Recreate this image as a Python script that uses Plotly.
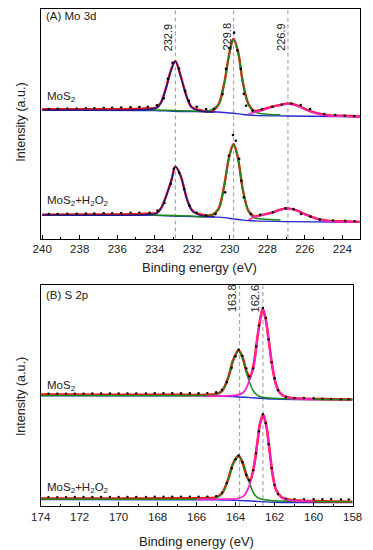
import plotly.graph_objects as go

# ---------------- Panel A: Mo 3d ----------------
A_ticks = [240, 238, 236, 234, 232, 230, 228, 226, 224]
A_peaks = [232.9, 229.8, 226.9]
A_peak_labels = ["232.9", "229.8", "226.9"]

A_mos2_env_be = [240.0, 237.0, 235.0, 234.5, 233.91, 233.69, 233.42, 233.12, 232.9, 232.62, 232.31, 232.1, 231.93, 231.44, 230.94,
                 230.59, 230.29, 230.0, 229.8, 229.55, 229.3, 229.0, 228.69, 228.29, 227.79, 227.27, 226.9, 226.36, 225.86,
                 225.36, 224.75, 223.96, 223.05]
A_mos2_env_y = [129.5, 129.5, 129.8, 130.3, 131.3, 135.7, 149.7, 169.7, 178.0, 163.0, 143.0, 133.5, 130.5, 128.0, 128.0,
                134.7, 156.3, 188.0, 200.3, 186.3, 156.3, 134.7, 128.0, 129.0, 132.0, 134.0, 135.3, 133.0, 128.7,
                125.7, 123.7, 123.0, 122.3]
A_mos2_bg_be = [240.0, 234.0, 233.2, 232.5, 231.0, 230.3, 229.8, 229.3, 228.8, 227.0, 223.05]
A_mos2_bg_y = [128.5, 128.3, 127.8, 127.3, 127.0, 126.3, 125.5, 124.3, 123.5, 122.8, 122.0]
A_mos2_c1_be = [240.0, 234.5, 233.91, 233.69, 233.42, 233.12, 232.9, 232.62, 232.31, 232.1, 231.93, 231.44, 230.8]
A_mos2_c1_y = [128.8, 129.2, 130.8, 135.2, 149.2, 169.2, 177.5, 162.5, 142.5, 133.0, 130.0, 127.3, 126.8]
A_mos2_c2_be = [234.5, 233.0, 232.0, 231.2, 230.59, 230.29, 230.0, 229.8, 229.55, 229.3, 229.0, 228.69, 228.3, 227.8, 227.3]
A_mos2_c2_y = [129.0, 128.3, 127.8, 127.6, 134.3, 155.8, 187.5, 199.8, 185.8, 155.8, 134.0, 127.2, 125.0, 124.3, 124.0]
A_mos2_c3_be = [229.0, 228.69, 228.29, 227.79, 227.27, 226.9, 226.36, 225.86, 225.36, 224.75, 223.96, 223.05]
A_mos2_c3_y = [124.5, 126.5, 128.4, 131.5, 133.5, 134.8, 132.5, 128.2, 125.2, 123.2, 122.6, 122.0]
A_mos2_dot_be = [239.65, 239.18, 238.66, 238.16, 237.67, 237.22, 236.72, 236.27, 235.79, 235.29, 234.82, 234.37, 233.88,
                 233.52, 233.3, 233.05, 232.71, 232.38, 232.18, 231.76, 231.26, 230.84, 230.39, 230.2, 230.02, 229.77,
                 229.58, 229.41, 229.25, 229.13, 228.79, 228.29, 227.73, 227.23, 226.72, 226.22, 225.72, 224.97, 224.38,
                 223.87, 223.37]
A_mos2_dot_y = [129.8, 130.0, 130.2, 130.3, 130.5, 130.5, 130.8, 131.0, 131.3, 131.5, 131.7, 132.0, 133.5,
                140.5, 160.0, 176.0, 170.3, 148.0, 138.0, 132.0, 129.7, 130.0, 144.7, 170.0, 191.0, 206.3,
                188.3, 170.0, 145.0, 133.0, 128.0, 129.5, 132.0, 134.3, 135.3, 133.7, 129.7, 124.7, 123.7,
                123.0, 122.7]

A_h2o2_env_be = [240.0, 237.0, 235.0, 234.5, 233.89, 233.65, 233.42, 233.12, 232.9, 232.62, 232.31, 232.1, 231.93, 231.44,
                 230.94, 230.6, 230.3, 230.02, 229.8, 229.57, 229.31, 229.01, 228.71, 228.31, 227.81, 227.3, 226.9,
                 226.4, 225.9, 225.4, 224.8, 224.0, 223.05]
A_h2o2_env_y = [24.0, 24.2, 24.5, 24.8, 25.7, 31.0, 41.3, 58.0, 72.3, 63.0, 41.3, 31.0, 27.0, 23.7,
                23.7, 29.7, 53.0, 83.0, 94.7, 81.3, 49.7, 28.0, 22.3, 23.7, 25.7, 29.0, 30.3,
                28.0, 23.7, 20.3, 18.0, 17.3, 16.7]
A_h2o2_bg_be = [240.0, 234.0, 233.0, 232.0, 231.0, 230.3, 229.8, 229.3, 228.8, 227.0, 223.05]
A_h2o2_bg_y = [23.4, 23.2, 22.5, 22.0, 21.7, 21.0, 19.7, 18.5, 17.8, 17.0, 16.3]
A_h2o2_c1_be = [240.0, 234.5, 233.89, 233.65, 233.42, 233.12, 232.9, 232.62, 232.31, 232.1, 231.93, 231.44, 230.8]
A_h2o2_c1_y = [23.6, 23.9, 25.2, 30.5, 40.9, 57.6, 71.9, 62.6, 40.9, 30.6, 26.4, 22.6, 22.0]
A_h2o2_c2_be = [234.5, 233.0, 232.0, 231.2, 230.6, 230.3, 230.02, 229.8, 229.57, 229.31, 229.01, 228.71, 228.3, 227.8, 227.3]
A_h2o2_c2_y = [23.8, 23.0, 22.5, 22.2, 29.3, 52.6, 82.6, 94.3, 80.9, 49.3, 27.4, 21.0, 19.6, 19.0, 18.7]
A_h2o2_c3_be = [229.0, 228.71, 228.31, 227.81, 227.3, 226.9, 226.4, 225.9, 225.4, 224.8, 224.0, 223.05]
A_h2o2_c3_y = [19.0, 21.4, 23.3, 25.3, 28.6, 29.9, 27.6, 23.3, 19.9, 17.6, 17.0, 16.4]
A_h2o2_dot_be = [239.65, 239.18, 238.66, 238.16, 237.67, 237.22, 236.72, 236.27, 235.79, 235.29, 234.82, 234.27, 233.85,
                 233.48, 233.15, 232.98, 232.7, 232.43, 232.15, 231.76, 231.26, 230.76, 230.25, 230.05, 229.83, 229.68,
                 229.5, 229.38, 229.25, 228.88, 228.38, 227.7, 227.03, 226.6, 226.2, 225.7, 225.2, 224.5, 223.85, 223.35]
A_h2o2_dot_y = [24.5, 24.6, 24.7, 24.8, 25.0, 25.0, 25.3, 25.4, 25.6, 25.7, 25.8, 25.7, 28.0,
                35.7, 54.7, 70.0, 66.0, 49.7, 33.0, 25.7, 23.0, 24.5, 46.3, 83.0, 103.7, 98.0,
                80.0, 58.0, 41.3, 24.7, 23.7, 26.3, 30.3, 29.5, 24.7, 22.0, 19.0, 18.0, 17.7, 17.3]

# ---------------- Panel B: S 2p ----------------
B_ticks = [174, 172, 170, 168, 166, 164, 162, 160, 158]
B_peaks = [163.8, 162.6]
B_peak_labels = ["163.8", "162.6"]

B_mos2_env_be = [174.0, 170.0, 167.0, 166.32, 165.5, 165.03, 164.7, 164.37, 164.13, 163.85, 163.64, 163.43, 163.27, 163.08,
                 162.88, 162.75, 162.61, 162.46, 162.3, 162.14, 161.94, 161.7, 161.3, 160.65, 160.0, 159.0, 158.0]
B_mos2_env_y = [111.7, 111.6, 111.5, 111.3, 111.5, 112.0, 115.3, 129.3, 146.0, 156.0, 148.7, 134.3, 129.3, 141.0,
                169.3, 186.0, 197.7, 187.7, 166.0, 142.7, 122.7, 112.7, 108.7, 107.7, 107.3, 107.0, 106.8]
B_mos2_bg_be = [174.0, 166.0, 165.0, 164.0, 163.5, 163.0, 162.5, 162.0, 161.0, 158.0]
B_mos2_bg_y = [110.5, 110.4, 110.2, 109.6, 109.0, 108.3, 107.7, 107.2, 106.8, 106.5]
B_mos2_c1_be = [174.0, 166.0, 165.03, 164.7, 164.37, 164.13, 163.85, 163.64, 163.43, 163.27, 163.08, 162.88, 162.6, 162.0, 160.0, 158.0]
B_mos2_c1_y = [110.9, 110.9, 111.5, 115.0, 129.0, 145.7, 155.7, 147.5, 133.0, 123.0, 115.0, 111.0, 109.0, 108.0, 107.0, 106.7]
B_mos2_c2_be = [165.5, 164.5, 164.0, 163.6, 163.35, 163.08, 162.88, 162.75, 162.61, 162.46, 162.3, 162.14, 161.94, 161.7, 161.3, 160.65, 160.0]
B_mos2_c2_y = [110.2, 110.3, 110.8, 114.0, 123.0, 139.5, 169.0, 185.7, 197.4, 187.4, 165.7, 142.4, 122.4, 112.4, 108.4, 107.4, 107.0]
B_dot_be = [173.6, 173.15, 172.7, 172.25, 171.8, 171.35, 170.9, 170.45, 170.0, 169.55, 169.1, 168.6, 168.15, 167.7, 167.25,
            166.8, 166.35, 165.9, 165.45, 165.0, 164.7, 164.45, 164.2, 164.0, 163.85, 163.65, 163.45, 163.3, 163.1, 162.95,
            162.8, 162.6, 162.45, 162.3, 162.15, 162.0, 161.83, 161.42, 160.98, 160.5, 160.0, 159.55, 159.1, 158.6, 158.2]
B_mos2_dot_y = [112.6, 112.7, 112.7, 112.7, 112.7, 112.8, 112.8, 112.8, 112.8, 112.9, 112.9, 112.9, 113.0, 113.0, 113.0,
                113.0, 113.0, 113.0, 113.2, 114.0, 116.5, 124.0, 138.5, 150.0, 156.7, 150.5, 138.0, 130.0, 138.0, 160.0,
                181.0, 198.5, 188.5, 167.0, 144.0, 128.0, 116.0, 109.3, 108.3, 108.3, 108.0, 107.7, 107.3, 107.0, 107.0]

B_h2o2_env_be = [174.0, 170.0, 167.0, 166.32, 165.5, 165.03, 164.7, 164.37, 164.13, 163.85, 163.64, 163.43, 163.27, 163.08,
                 162.88, 162.75, 162.59, 162.43, 162.27, 162.11, 161.92, 161.63, 161.15, 159.85, 158.0]
B_h2o2_env_y = [7.5, 7.6, 7.7, 7.7, 8.0, 8.7, 12.7, 27.7, 42.7, 50.3, 43.3, 30.0, 25.0, 37.7,
                64.3, 82.7, 91.7, 81.0, 57.7, 32.7, 16.0, 8.7, 6.0, 5.0, 4.3]
B_h2o2_bg_be = [174.0, 166.0, 165.0, 164.0, 163.0, 162.0, 161.0, 158.0]
B_h2o2_bg_y = [6.6, 6.4, 6.2, 5.7, 4.8, 3.9, 3.6, 3.5]
B_h2o2_c1_be = [174.0, 166.0, 165.03, 164.7, 164.37, 164.13, 163.85, 163.64, 163.43, 163.27, 163.08, 162.88, 162.6, 162.0, 160.0, 158.0]
B_h2o2_c1_y = [7.0, 7.1, 8.0, 12.3, 27.3, 42.3, 50.0, 43.0, 31.0, 22.0, 13.0, 8.5, 6.5, 5.3, 4.5, 4.2]
B_h2o2_c2_be = [166.0, 164.5, 164.0, 163.6, 163.35, 163.08, 162.88, 162.75, 162.59, 162.43, 162.27, 162.11, 161.92, 161.63, 161.15, 160.0]
B_h2o2_c2_y = [6.8, 7.0, 7.3, 10.0, 18.0, 37.3, 64.0, 82.4, 91.4, 80.7, 57.4, 32.4, 15.7, 8.4, 5.7, 4.7]
B_h2o2_dot_y = [9.0, 9.0, 9.0, 9.1, 9.1, 9.1, 9.1, 9.2, 9.2, 9.2, 9.2, 9.2, 9.3, 9.3, 9.3,
                9.3, 9.3, 9.4, 9.5, 10.0, 13.5, 23.0, 38.0, 47.0, 50.7, 44.0, 31.5, 26.0, 36.0, 53.0,
                75.0, 92.0, 83.0, 62.0, 38.0, 21.0, 12.0, 7.5, 7.0, 7.0, 7.0, 7.0, 7.0, 6.7, 6.7]

# ---------------- styling ----------------
FONT = "Arial, Liberation Sans, sans-serif"
RED = "#ff1010"
NAVY = "#1a1a8c"
BLUE = "#2a2ad0"
GREEN = "#1a8a1a"
MAGENTA = "#ff20c8"

fig = go.Figure()


def line(x, y, color, width, xa, ya):
    fig.add_trace(go.Scatter(x=x, y=y, mode="lines", xaxis=xa, yaxis=ya, showlegend=False, hoverinfo="skip",
                             line=dict(color=color, width=width, shape="spline", smoothing=0.9)))


def dots(x, y, xa, ya, size=2.6):
    fig.add_trace(go.Scatter(x=x, y=y, mode="markers", xaxis=xa, yaxis=ya, showlegend=False, hoverinfo="skip",
                             marker=dict(color="black", size=size)))


# panel A traces
for env_be, env_y, bg_be, bg_y, c1b, c1y, c2b, c2y, c3b, c3y, db, dy in [
    (A_mos2_env_be, A_mos2_env_y, A_mos2_bg_be, A_mos2_bg_y, A_mos2_c1_be, A_mos2_c1_y, A_mos2_c2_be, A_mos2_c2_y,
     A_mos2_c3_be, A_mos2_c3_y, A_mos2_dot_be, A_mos2_dot_y),
    (A_h2o2_env_be, A_h2o2_env_y, A_h2o2_bg_be, A_h2o2_bg_y, A_h2o2_c1_be, A_h2o2_c1_y, A_h2o2_c2_be, A_h2o2_c2_y,
     A_h2o2_c3_be, A_h2o2_c3_y, A_h2o2_dot_be, A_h2o2_dot_y)]:
    line(bg_be, bg_y, BLUE, 1.4, "x", "y")
    line(env_be, env_y, RED, 2.4, "x", "y")
    line(c2b, c2y, GREEN, 1.5, "x", "y")
    line(c3b, c3y, MAGENTA, 1.6, "x", "y")
    line(c1b, c1y, NAVY, 1.5, "x", "y")
    dots(db, dy, "x", "y")

# panel B traces
for env_be, env_y, bg_be, bg_y, c1b, c1y, c2b, c2y, dy in [
    (B_mos2_env_be, B_mos2_env_y, B_mos2_bg_be, B_mos2_bg_y, B_mos2_c1_be, B_mos2_c1_y, B_mos2_c2_be, B_mos2_c2_y, B_mos2_dot_y),
    (B_h2o2_env_be, B_h2o2_env_y, B_h2o2_bg_be, B_h2o2_bg_y, B_h2o2_c1_be, B_h2o2_c1_y, B_h2o2_c2_be, B_h2o2_c2_y, B_h2o2_dot_y)]:
    line(bg_be, bg_y, BLUE, 1.4, "x2", "y2")
    line(env_be, env_y, RED, 2.6, "x2", "y2")
    line(c1b, c1y, GREEN, 1.5, "x2", "y2")
    line(c2b, c2y, MAGENTA, 1.8, "x2", "y2")
    dots(B_dot_be, dy, "x2", "y2", size=2.4)

# the page body has an 8px margin, so the figure is drawn 8px smaller and positions are shifted by 8px
OFF = 8
W, H = 373 - OFF, 550 - OFF


def px_x(p):
    return (p - OFF) / W


def px_y(p):
    return min(1.0, max(0.0, 1 - (p - OFF) / H))


shapes = []
annotations = []
for pk, lab in zip(A_peaks, A_peak_labels):
    shapes.append(dict(type="line", xref="x", yref="y domain", x0=pk, x1=pk, y0=0, y1=1, layer="below",
                       line=dict(color="#a8a8a8", width=1.2, dash="4px,3px")))
    annotations.append(dict(text=lab, xref="x", yref="paper", x=pk, y=px_y(20), xshift=-7, textangle=-90,
                            showarrow=False, font=dict(family=FONT, size=11, color="#222")))
for pk, lab in zip(B_peaks, B_peak_labels):
    shapes.append(dict(type="line", xref="x2", yref="y2 domain", x0=pk, x1=pk, y0=0, y1=1, layer="below",
                       line=dict(color="#a8a8a8", width=1.2, dash="4px,3px")))
    annotations.append(dict(text=lab, xref="x2", yref="paper", x=pk, y=px_y(298), xshift=-7, textangle=-90,
                            showarrow=False, font=dict(family=FONT, size=11, color="#222")))

texts = [
    ("(A) Mo 3d", 35, 15, "left", 11.5),
    ("MoS<sub>2</sub>", 37, 96, "left", 11.5),
    ("MoS<sub>2</sub>+H<sub>2</sub>O<sub>2</sub>", 37, 200, "left", 11.5),
    ("(B) S 2p", 36, 295, "left", 11.5),
    ("MoS<sub>2</sub>", 37, 386, "left", 11.5),
    ("MoS<sub>2</sub>+H<sub>2</sub>O<sub>2</sub>", 37, 488, "left", 11.5),
    ("Binding energy (eV)", 200, 267, "center", 13),
    ("Binding energy (eV)", 197, 541, "center", 13),
]
for t, x, y, anc, fs in texts:
    annotations.append(dict(text=t, xref="paper", yref="paper", x=px_x(x), y=px_y(y), xanchor=anc, yanchor="middle",
                            showarrow=False, font=dict(family=FONT, size=fs, color="#222")))
for yc in (121, 396):
    annotations.append(dict(text="Intensity (a.u.)", xref="paper", yref="paper", x=px_x(11), y=px_y(yc),
                            textangle=-90, showarrow=False, xanchor="center", yanchor="middle",
                            font=dict(family=FONT, size=12.5, color="#222")))

xcommon = dict(showline=True, linecolor="black", linewidth=1, mirror=True, ticks="inside", ticklen=4,
               tickcolor="black", tickwidth=1, showgrid=False, zeroline=False,
               tickfont=dict(family=FONT, size=11.5, color="#222"),
               minor=dict(ticks="inside", ticklen=2, dtick=1, tickcolor="black", showgrid=False))
ycommon = dict(showline=True, linecolor="black", linewidth=1, mirror=True, ticks="", showticklabels=False,
               showgrid=False, zeroline=False)

fig.update_layout(
    width=W, height=H, autosize=False, margin=dict(l=0, r=0, t=0, b=0),
    paper_bgcolor="white", plot_bgcolor="white",
    xaxis=dict(domain=[px_x(32), px_x(370)], range=[240.08, 223.05], anchor="y", tickvals=A_ticks, **xcommon),
    # top of the panel is clipped to the figure edge (page y=8), so the upper limit is 238-8
    yaxis=dict(domain=[px_y(238), px_y(8)], range=[0, 230], anchor="x", **ycommon),
    xaxis2=dict(domain=[px_x(32), px_x(362)], range=[174.0, 158.0], anchor="y2", tickvals=B_ticks, **xcommon),
    yaxis2=dict(domain=[px_y(506), px_y(285)], range=[0, 221], anchor="x2", **ycommon),
    shapes=shapes, annotations=annotations,
)

fig.write_html("out.html")
